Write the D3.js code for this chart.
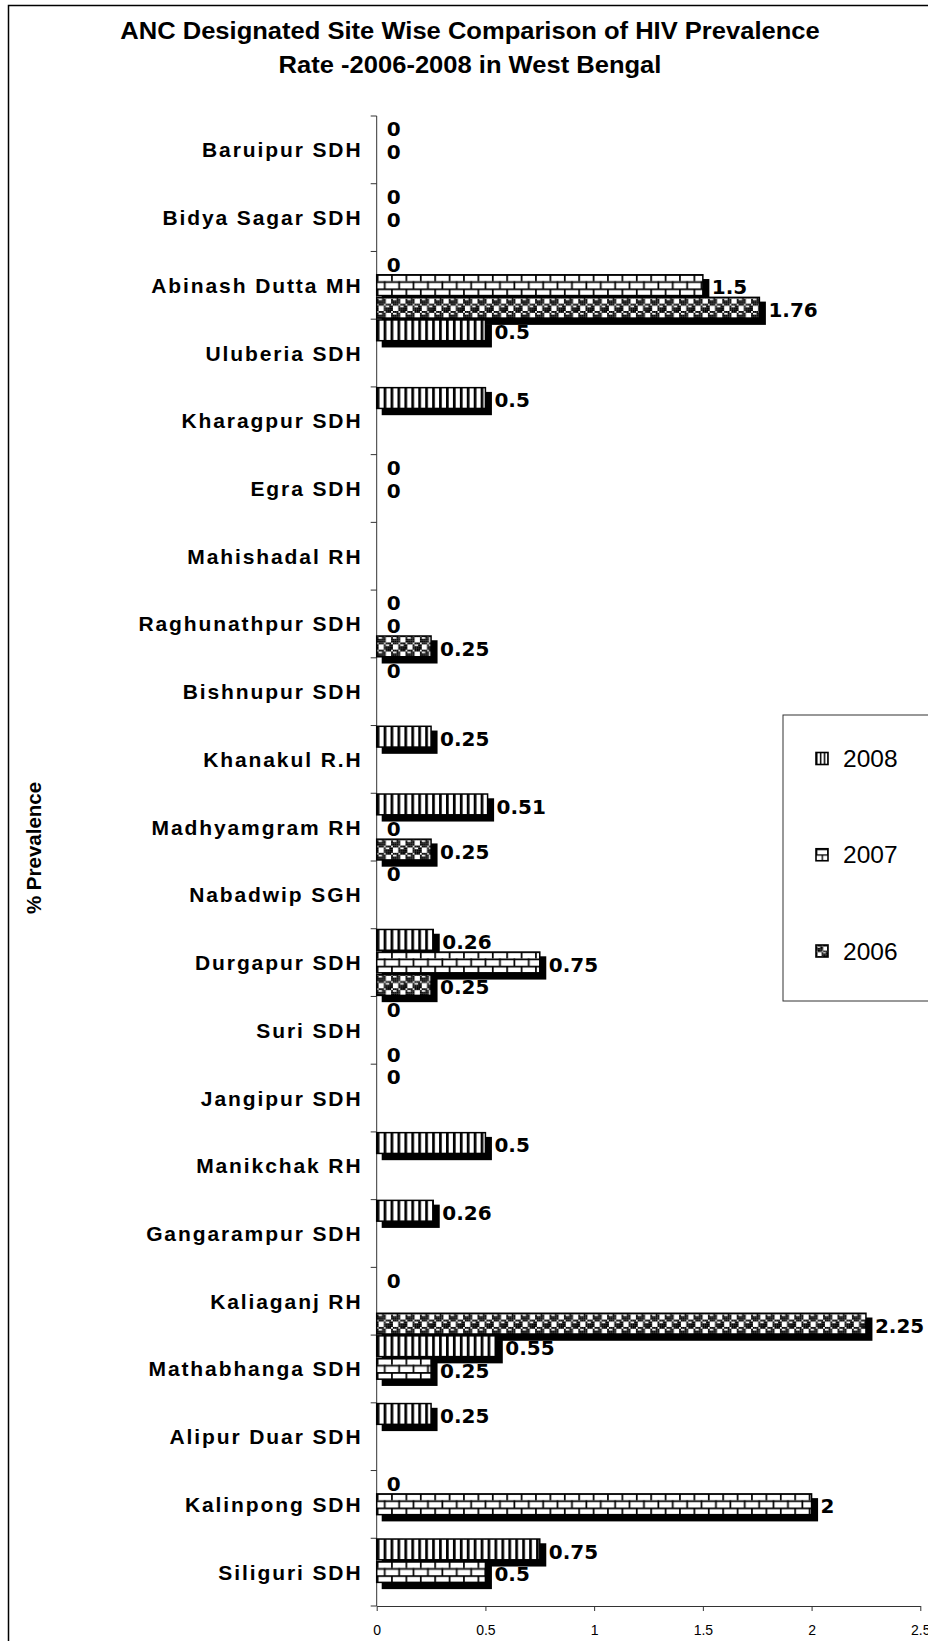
<!DOCTYPE html>
<html><head><meta charset="utf-8">
<script src="https://cdn.jsdelivr.net/npm/d3@7"></script>
<style>body{margin:0;background:#fff;} svg{display:block;}</style>
</head><body>
<script>
const categories = ["Baruipur SDH","Bidya Sagar SDH","Abinash Dutta MH","Uluberia SDH","Kharagpur SDH","Egra SDH","Mahishadal RH","Raghunathpur SDH","Bishnupur SDH","Khanakul R.H","Madhyamgram RH","Nabadwip SGH","Durgapur SDH","Suri SDH","Jangipur SDH","Manikchak RH","Gangarampur SDH","Kaliaganj RH","Mathabhanga SDH","Alipur Duar SDH","Kalinpong SDH","Siliguri SDH"];
const series = ["2008","2007","2006"];
const values2008 = [0,0,0,0.5,0.5,0,null,0,0,0.25,0.51,0,0.26,0,0,0.5,0.26,0,0.55,0.25,0,0.75];
const values2007 = [0,0,1.5,null,null,0,null,0,null,null,0,null,0.75,null,null,null,null,null,0.25,null,2,0.5];
const values2006 = [null,null,1.76,null,null,null,null,0.25,null,null,0.25,null,0.25,0,null,null,null,2.25,null,null,null,null];
const xTicks = [0,0.5,1,1.5,2,2.5];
const titleLines = ["ANC Designated Site Wise Comparison of HIV Prevalence","Rate -2006-2008 in West Bengal"];
const yTitle = "% Prevalence";

const valuesBySeries = {"2008": values2008, "2007": values2007, "2006": values2006};
const W = 928, H = 1641;
const svg = d3.select("body").append("svg").attr("width", W).attr("height", H)
  .style("font-family", "'Liberation Sans', Arial, sans-serif");

// outer chart border
svg.append("rect").attr("x", 8.5).attr("y", 5.5).attr("width", 1000).attr("height", 1700)
  .attr("fill", "#fff").attr("stroke", "#000").attr("stroke-width", 1.5);

const x = d3.scaleLinear().domain([0, 2.5]).range([376.7, 920.3]);
const y = d3.scaleBand().domain(categories).range([116, 1606]);
const ys = d3.scaleBand().domain(series).range([0, y.bandwidth()]);

// patterns
const defs = svg.append("defs");
function stripePattern(id, c) {
  const p = defs.append("pattern").attr("id", id).attr("patternUnits", "userSpaceOnUse")
    .attr("width", 3.85 * c).attr("height", 4 * c);
  p.append("rect").attr("width", 3.85 * c).attr("height", 4 * c).attr("fill", "#fff");
  p.append("rect").attr("width", 1.5 * c).attr("height", 4 * c).attr("fill", "#000");
}
function brickPattern(id, c) {
  const s = 8 * c, t = c * 0.95;
  const p = defs.append("pattern").attr("id", id).attr("patternUnits", "userSpaceOnUse")
    .attr("width", s).attr("height", s);
  p.append("rect").attr("width", s).attr("height", s).attr("fill", "#fff");
  p.append("rect").attr("x", 0).attr("y", 0).attr("width", s).attr("height", t).attr("fill", "#000");
  p.append("rect").attr("x", 0).attr("y", s / 2).attr("width", s).attr("height", t).attr("fill", "#000");
  p.append("rect").attr("x", 0).attr("y", 0).attr("width", t).attr("height", s / 2).attr("fill", "#000");
  p.append("rect").attr("x", s / 2).attr("y", s / 2).attr("width", t).attr("height", s / 2).attr("fill", "#000");
}
const sphereBits = [0x77, 0x98, 0xF8, 0xF8, 0x77, 0x89, 0x8F, 0x8F];
function spherePattern(id, c) {
  const s = 8 * c;
  const p = defs.append("pattern").attr("id", id).attr("patternUnits", "userSpaceOnUse")
    .attr("width", s).attr("height", s);
  p.append("rect").attr("width", s).attr("height", s).attr("fill", "#fff");
  sphereBits.forEach((b, r) => {
    for (let k = 0; k < 8; k++) {
      if (b & (0x80 >> k)) p.append("rect").attr("x", k * c).attr("y", r * c)
        .attr("width", c + 0.05).attr("height", c + 0.05).attr("fill", "#000");
    }
  });
}
stripePattern("p2008", 1.8); brickPattern("p2007", 1.8); spherePattern("p2006", 1.8);
stripePattern("l2008", 1.0); brickPattern("l2007", 1.4); spherePattern("l2006", 1.4);

// title
const title = svg.append("g").attr("transform", "translate(470,0)");
const tl = title.selectAll("text").data(titleLines).join("text")
  .attr("y", (d, i) => 39.5 + i * 33.5)
  .attr("text-anchor", "middle").attr("font-weight", "bold").attr("font-size", 24.5)
  .attr("fill", "#000").text(d => d);
const natural = tl.nodes()[0].getComputedTextLength();
tl.attr("transform", `scale(${700 / natural},1)`);

// y axis title
svg.append("text").attr("transform", "translate(33,848) rotate(-90)")
  .attr("text-anchor", "middle").attr("dominant-baseline", "central")
  .attr("font-weight", "bold").attr("font-size", 20.5).text(yTitle);

// axes
const axisColor = "#333";
const plot = svg.append("g");
plot.append("line").attr("x1", x(0)).attr("x2", x(0)).attr("y1", y.range()[0]).attr("y2", y.range()[1])
  .attr("stroke", axisColor).attr("stroke-width", 1);
const tickYs = categories.map(c => y(c)).concat([y.range()[1]]);
plot.selectAll("line.ytick").data(tickYs).join("line").attr("class", "ytick")
  .attr("x1", x(0) - 6).attr("x2", x(0)).attr("y1", d => d).attr("y2", d => d)
  .attr("stroke", axisColor).attr("stroke-width", 1);

const xAxis = svg.append("g").attr("transform", `translate(0,${y.range()[1]})`)
  .call(d3.axisBottom(x).tickValues(xTicks).tickSize(5).tickSizeOuter(0).tickPadding(14).tickFormat(d => String(d)));
xAxis.select(".domain").attr("stroke", axisColor);
xAxis.selectAll(".tick line").attr("stroke", axisColor);
xAxis.selectAll("text").attr("font-family", "'Liberation Sans', Arial, sans-serif").attr("font-size", 14).attr("fill", "#000");

// category labels
svg.append("g").selectAll("text").data(categories).join("text")
  .attr("x", 362.5).attr("y", d => y(d) + y.bandwidth() / 2)
  .attr("text-anchor", "end").attr("dominant-baseline", "central")
  .attr("font-weight", "bold").attr("font-size", 21).attr("letter-spacing", 1.9)
  .attr("fill", "#000").text(d => d);

// bars
const barH = ys.bandwidth() - 1.8;
const items = [];
categories.forEach((c, i) => {
  series.forEach(s => {
    const v = valuesBySeries[s][i];
    if (v == null) return;
    items.push({c, s, v});
  });
});
const bars = svg.append("g");
items.forEach(d => {
  const top = y(d.c) + ys(d.s);
  const w = x(d.v) - x(0);
  if (w <= 0) return;
  const g = bars.append("g").attr("transform", `translate(${x(0)},${top})`);
  g.append("rect").attr("x", 5).attr("y", 5).attr("width", w + 1.5).attr("height", barH + 2.5).attr("fill", "#000");
  g.append("rect").attr("x", 0).attr("y", 0.75).attr("width", w).attr("height", barH)
    .attr("fill", `url(#p${d.s})`).attr("stroke", "#000").attr("stroke-width", 1.5);
});

// value labels
svg.append("g").selectAll("text").data(items).join("text")
  .attr("x", d => x(d.v) + (d.v > 0 ? 9 : 10))
  .attr("y", d => y(d.c) + ys(d.s) + ys.bandwidth() / 2 + 2)
  .attr("dominant-baseline", "central")
  .attr("font-family", "'DejaVu Sans', Verdana, sans-serif").attr("font-weight", "bold").attr("font-size", 20)
  .attr("fill", "#000").text(d => String(d.v));

// legend
const legend = svg.append("g");
legend.append("rect").attr("x", 783).attr("y", 715).attr("width", 300).attr("height", 286)
  .attr("fill", "#fff").attr("stroke", "#333").attr("stroke-width", 1);
const ly = d3.scalePoint().domain(series).range([758.5, 951]);
series.forEach(s => {
  const g = legend.append("g").attr("transform", `translate(816,${ly(s) - 6})`);
  g.append("rect").attr("width", 12).attr("height", 12).attr("fill", `url(#l${s})`).attr("stroke", "#000").attr("stroke-width", 1.6);
  legend.append("text").attr("x", 843).attr("y", ly(s)).attr("dominant-baseline", "central")
    .attr("font-size", 24.5).attr("fill", "#000").text(s);
});
</script>
</body></html>
